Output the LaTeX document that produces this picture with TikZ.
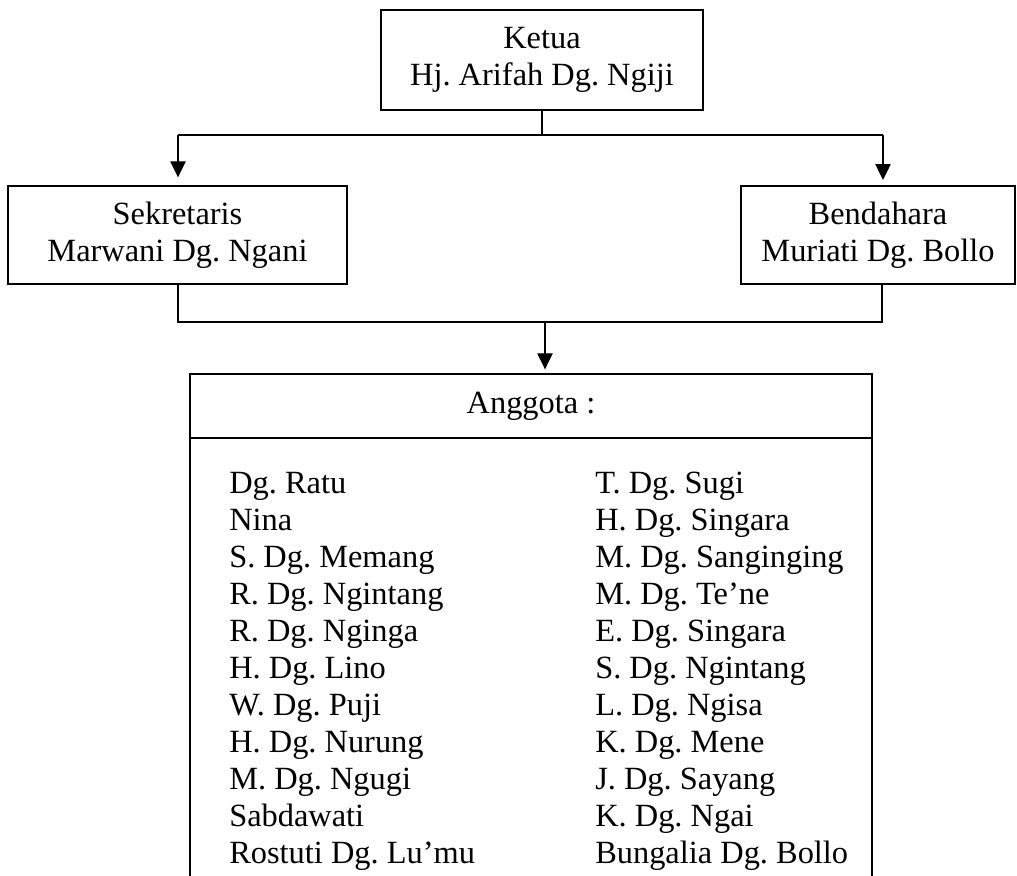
\documentclass[tikz,border=0pt]{standalone}
\usepackage{fontspec}
\setmainfont{Liberation Serif}
\usetikzlibrary{arrows.meta}
\frenchspacing
\begin{document}
\begin{tikzpicture}[x=0.75pt,y=-0.75pt,
  txt/.style={font=\fontsize{24.3}{28}\selectfont\frenchspacing},
  box/.style={draw, line width=1pt, inner sep=0pt, align=center, txt},
  conn/.style={line width=0.9pt},
  arr/.style={conn, -{Triangle[length=12pt,width=11.5pt]}},
  person/.style={anchor=base west, inner sep=0pt, txt}]
\useasboundingbox (0,0) rectangle (1017,875);
% boxes
\node[box, minimum width=241.5pt, minimum height=75pt] (ketua) at (542,60) {Ketua\\Hj. Arifah Dg. Ngiji};
\node[box, minimum width=254.25pt, minimum height=73.5pt] (sek) at (177.5,235) {Sekretaris\\Marwani Dg. Ngani};
\node[box, minimum width=205.5pt, minimum height=73.5pt] (bend) at (878,235) {Bendahara\\Muriati Dg. Bollo};
\node[box, minimum width=511.5pt, minimum height=48pt] (ang) at (531,406) {Anggota :};
\node[box, minimum width=511.5pt, minimum height=331.5pt] (list) at (531,659) {};
% members
\foreach \t [count=\i] in {Dg. Ratu, Nina, S. Dg. Memang, R. Dg. Ngintang, R. Dg. Nginga, H. Dg. Lino, W. Dg. Puji, H. Dg. Nurung, M. Dg. Ngugi, Sabdawati, Rostuti Dg. Lu’mu}
  \node[person] (l\i) at (229,{493+37*(\i-1)}) {\t};
\foreach \t [count=\i] in {T. Dg. Sugi, H. Dg. Singara, M. Dg. Sanginging, M. Dg. Te’ne, E. Dg. Singara, S. Dg. Ngintang, L. Dg. Ngisa, K. Dg. Mene, J. Dg. Sayang, K. Dg. Ngai, Bungalia Dg. Bollo}
  \node[person] (r\i) at (595,{493+37*(\i-1)}) {\t};
% connectors
\coordinate (kl) at (178,135);
\coordinate (kr) at (883,135);
\coordinate (bl) at (178,322);
\coordinate (br) at (882,322);
\coordinate (bm) at (545,322);
\draw[conn] (ketua.south) -- (ketua.south |- kl);
\draw[conn] (kl) -- (kr);
\draw[arr, shorten >=6pt] (kl) -- (kl |- sek.north);
\draw[arr, shorten >=4pt] (kr) -- (kr |- bend.north);
\draw[conn] (sek.south -| bl) -- (bl) -- (br) -- (bend.south -| br);
\draw[arr, shorten >=3pt] (bm) -- (bm |- ang.north);
\end{tikzpicture}
\end{document}
